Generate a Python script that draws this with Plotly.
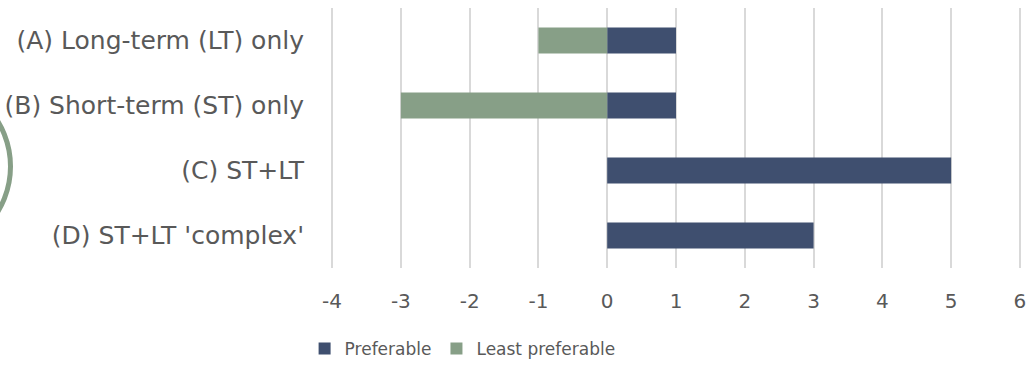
import plotly.graph_objects as go

categories = [
    "(A) Long-term (LT) only",
    "(B) Short-term (ST) only",
    "(C) ST+LT",
    "(D) ST+LT 'complex'",
]
preferable = [1, 1, 5, 3]
least_preferable = [-1, -3, 0, 0]
x_ticks = [-4, -3, -2, -1, 0, 1, 2, 3, 4, 5, 6]

NAVY = "#3F4F6F"
GREEN = "#879F87"
TEXT = "#595959"
FONT = "DejaVu Sans"

fig = go.Figure()

fig.add_trace(
    go.Bar(
        y=categories,
        x=preferable,
        orientation="h",
        name="Preferable",
        marker=dict(color=NAVY, line=dict(width=0)),
        width=0.4,
    )
)

fig.add_trace(
    go.Bar(
        y=categories,
        x=least_preferable,
        orientation="h",
        name="Least preferable",
        marker=dict(color=GREEN, line=dict(width=0)),
        width=0.4,
    )
)

# plot area in pixels (range padded a little so edge gridlines show)
L, R, T, B = 330, 1022, 8, 268


def px_x(p):
    return (p - L) / (R - L)


def px_y(p):
    return (B - p) / (B - T)


fig.update_layout(
    width=1028,
    height=368,
    barmode="relative",
    margin=dict(l=L, r=1028 - R, t=T, b=368 - B),
    paper_bgcolor="white",
    plot_bgcolor="white",
    font=dict(family=FONT, size=16, color=TEXT),
    showlegend=True,
    legend=dict(
        orientation="h",
        xref="container",
        yref="container",
        x=0.45,
        xanchor="center",
        y=1 - 349 / 368,
        yanchor="middle",
        font=dict(family=FONT, size=17, color=TEXT),
        traceorder="normal",
        itemwidth=30,
    ),
    xaxis=dict(
        range=[-4.03, 6.03],
        tickvals=x_ticks,
        ticktext=[str(v) for v in x_ticks],
        showgrid=True,
        gridcolor="#D9D9D9",
        gridwidth=1.5,
        zeroline=False,
        showline=False,
        ticks="",
        automargin=False,
        ticklabelstandoff=19,
        tickfont=dict(family=FONT, size=20, color=TEXT),
    ),
    yaxis=dict(
        autorange="reversed",
        showgrid=False,
        zeroline=False,
        showline=False,
        ticks="",
        automargin=False,
        ticklabelstandoff=25,
        tickfont=dict(family=FONT, size=25, color=TEXT),
    ),
    shapes=[
        dict(
            type="circle",
            xref="paper",
            yref="paper",
            x0=px_x(-164),
            x1=px_x(10.5),
            y0=px_y(253.5),
            y1=px_y(79.5),
            line=dict(color=GREEN, width=5),
            fillcolor="rgba(0,0,0,0)",
        )
    ],
)

fig.write_html(
    "out.html",
    config={"displayModeBar": False},
    post_script="document.body.style.margin='0';",
)
